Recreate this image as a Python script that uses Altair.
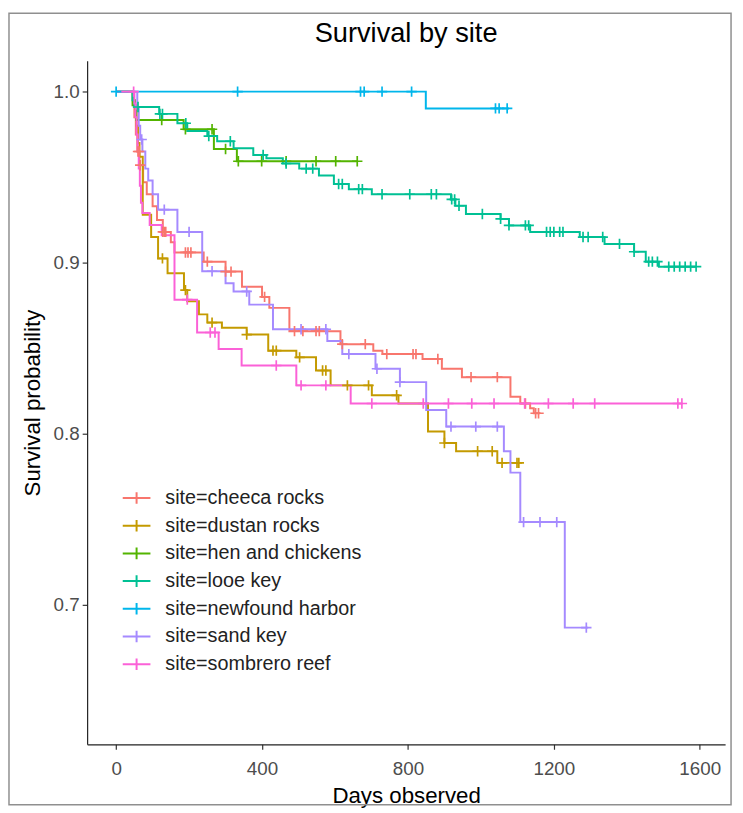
import altair as alt
import pandas as pd

sites = ["cheeca rocks", "dustan rocks", "hen and chickens", "looe key",
         "newfound harbor", "sand key", "sombrero reef"]
colors = ["#F8766D", "#C49A00", "#53B400", "#00C094", "#00B6EB", "#A58AFF", "#FB61D7"]
title_text = ["Survival by site"]

# Kaplan-Meier step points (time in days, survival probability), last observed time, censor times
cheeca_time = [0, 46, 50, 54, 58, 64, 74, 84, 100, 112, 128, 150, 160, 240, 300, 345, 400, 420,
               475, 615, 705, 730, 840, 893, 948, 1081, 1108, 1135, 1145]
cheeca_surv = [1.0, 0.995, 0.985, 0.975, 0.965, 0.957, 0.947, 0.94, 0.933, 0.925, 0.918, 0.912,
               0.906, 0.9006, 0.8948, 0.886, 0.880, 0.8736, 0.860, 0.8524, 0.8486, 0.8466, 0.8437,
               0.838, 0.8331, 0.8216, 0.8177, 0.8149, 0.812]
cheeca_last = 1162
cheeca_censor = [60, 63, 66, 128, 132, 136, 190, 197, 205, 250, 300, 315, 407, 489, 512, 548, 557,
                 620, 683, 742, 814, 822, 882, 973, 1045, 1122, 1150, 1158]

dustan_time = [0, 48, 52, 56, 60, 64, 73, 96, 115, 141, 186, 195, 227, 250, 290, 358, 417, 494,
               548, 588, 701, 774, 855, 900, 932, 1045]
dustan_surv = [1.0, 0.995, 0.99, 0.98, 0.97, 0.962, 0.928, 0.915, 0.9025, 0.8938, 0.884, 0.8775,
               0.8698, 0.865, 0.862, 0.858, 0.8486, 0.8447, 0.837, 0.8283, 0.8225, 0.8177, 0.8013,
               0.7946, 0.7898, 0.783]
dustan_last = 1104
dustan_censor = [127, 190, 263, 358, 430, 439, 503, 566, 575, 634, 692, 769, 900, 991, 1031,
                 1058, 1099, 1104]

hen_time = [0, 45, 55, 185, 268, 331]
hen_surv = [1.0, 0.992, 0.9834, 0.978, 0.9665, 0.9593]
hen_last = 661
hen_censor = [125, 190, 263, 300, 335, 399, 466, 548, 602, 661]

looe_time = [0, 45, 50, 118, 168, 195, 250, 277, 322, 376, 412, 457, 502, 556, 597, 638, 701,
             918, 930, 959, 1054, 1077, 1135, 1271, 1339, 1420, 1452, 1488]
looe_surv = [1.0, 0.995, 0.991, 0.987, 0.9815, 0.977, 0.974, 0.971, 0.9669, 0.963, 0.961, 0.958,
             0.955, 0.951, 0.946, 0.943, 0.940, 0.937, 0.9333, 0.9285, 0.9256, 0.9218, 0.918,
             0.915, 0.911, 0.9064, 0.9006, 0.8977]
looe_last = 1590
looe_censor = [60, 120, 127, 191, 254, 313, 403, 466, 521, 539, 610, 620, 665, 675, 729, 805, 864,
               878, 920, 928, 940, 1004, 1054, 1077, 1122, 1131, 1180, 1190, 1200, 1216, 1225,
               1280, 1294, 1334, 1380, 1420, 1460, 1470, 1484, 1515, 1530, 1545, 1560, 1575, 1590]

newfound_time = [0, 849]
newfound_surv = [1.0, 0.9902]
newfound_last = 1077
newfound_censor = [0, 333, 670, 680, 729, 810, 1040, 1050, 1072]

sand_time = [0, 58, 62, 66, 72, 80, 88, 100, 115, 168, 236, 300, 322, 365, 430, 579, 620, 711,
             778, 850, 905, 1063, 1081, 1108, 1230]
sand_surv = [1.0, 0.99, 0.98, 0.972, 0.965, 0.955, 0.948, 0.94, 0.931, 0.918, 0.895, 0.888,
             0.8832, 0.8755, 0.8611, 0.8543, 0.8466, 0.838, 0.8302, 0.8139, 0.8042, 0.7898,
             0.7773, 0.7484, 0.6867]
sand_last = 1294
sand_censor = [70, 132, 200, 263, 358, 507, 575, 638, 715, 778, 918, 986, 1045, 1117, 1162, 1208,
               1289]

sombrero_time = [0, 50, 53, 56, 59, 62, 65, 68, 72, 92, 125, 160, 222, 281, 344, 494, 643]
sombrero_surv = [1.0, 0.993, 0.985, 0.975, 0.965, 0.955, 0.945, 0.935, 0.929, 0.922, 0.916,
                 0.8784, 0.8592, 0.8495, 0.8399, 0.8283, 0.8177]
sombrero_last = 1551
sombrero_censor = [48, 195, 258, 271, 439, 507, 575, 701, 842, 911, 975, 1036, 1120, 1185, 1253,
                   1312, 1540, 1551]

x_ticks = [0, 400, 800, 1200, 1600]
y_ticks = [0.7, 0.8, 0.9, 1.0]

curves = [
    (cheeca_time, cheeca_surv, cheeca_last, cheeca_censor),
    (dustan_time, dustan_surv, dustan_last, dustan_censor),
    (hen_time, hen_surv, hen_last, hen_censor),
    (looe_time, looe_surv, looe_last, looe_censor),
    (newfound_time, newfound_surv, newfound_last, newfound_censor),
    (sand_time, sand_surv, sand_last, sand_censor),
    (sombrero_time, sombrero_surv, sombrero_last, sombrero_censor),
]
labels = ["site=" + s for s in sites]

line_rows, cens_rows = [], []
for k, (label, (t, s, last, cen)) in enumerate(zip(labels, curves)):
    for ti, si in zip(t, s):
        line_rows.append({"site": label, "time": ti, "surv": si, "ord": k})
    line_rows.append({"site": label, "time": last, "surv": s[-1], "ord": k})
    for ci in cen:
        idx = max(i for i, ti in enumerate(t) if ti <= ci)
        cens_rows.append({"site": label, "time": ci, "surv": s[idx], "ord": k})

line_df = pd.DataFrame(line_rows)
cens_df = pd.DataFrame(cens_rows)

FONT = "Liberation Sans"
CROSS = "M-1,0H1M0,-1V1"
LEG_SYM = "M-1,0H1M0,-0.42V0.42"

xenc = alt.X("time:Q",
             scale=alt.Scale(domain=[-79.5, 1669.5], nice=False, zero=False),
             axis=alt.Axis(values=x_ticks, title="Days observed", grid=False, format="d",
                           labelPadding=11, titlePadding=6))
yenc = alt.Y("surv:Q",
             scale=alt.Scale(domain=[0.6185, 1.018], nice=False, zero=False),
             axis=alt.Axis(values=y_ticks, title="Survival probability", grid=False,
                           format=".1f", labelPadding=3, titlePadding=9))

lines = alt.Chart(line_df).mark_line(interpolate="step-after", strokeWidth=2).encode(
    x=xenc, y=yenc,
    color=alt.Color("site:N", scale=alt.Scale(domain=labels, range=colors),
                    legend=alt.Legend(title=None, orient="none", legendX=35, legendY=427,
                                      symbolType=LEG_SYM, symbolSize=784,
                                      symbolStrokeWidth=2, labelFontSize=20, labelFont=FONT,
                                      labelColor="#222222", rowPadding=3, labelOffset=14,
                                      labelLimit=400, padding=0)),
    order=alt.Order("time:Q"),
)

points = alt.Chart(cens_df).mark_point(shape=CROSS, filled=False, size=110, strokeWidth=1.7,
                                       opacity=1).encode(
    x="time:Q", y="surv:Q",
    color=alt.Color("site:N", scale=alt.Scale(domain=labels, range=colors), legend=None),
)

frame = alt.Chart(pd.DataFrame({"f": [0]})).mark_rect(
    fill="white", fillOpacity=0, stroke="#8f8f8f", strokeWidth=1.5
).encode(x=alt.value(-79), x2=alt.value(651), y=alt.value(-48), y2=alt.value(752))

title = alt.Chart(pd.DataFrame({"t": title_text})).mark_text(
    font=FONT, fontSize=27.5, color="#000000", align="center", baseline="middle"
).encode(text="t:N", x=alt.value(322.5), y=alt.value(-27))

chart = alt.layer(frame, title, lines, points).properties(
    width=645, height=691,
    autosize=alt.AutoSizeParams(type="none"),
    padding={"left": 80, "top": 49, "right": 10, "bottom": 62},
).configure_view(stroke=None).configure_axis(
    domainColor="#222222", domainWidth=1.2, tickColor="#333333", tickWidth=1.2, tickSize=5,
    labelFont=FONT, labelFontSize=19, labelColor="#4D4D4D",
    titleFont=FONT, titleFontSize=22.5, titleFontWeight="normal", titleColor="#000000",
)

chart.save("out.html", embed_options={"renderer": "svg", "actions": False})
